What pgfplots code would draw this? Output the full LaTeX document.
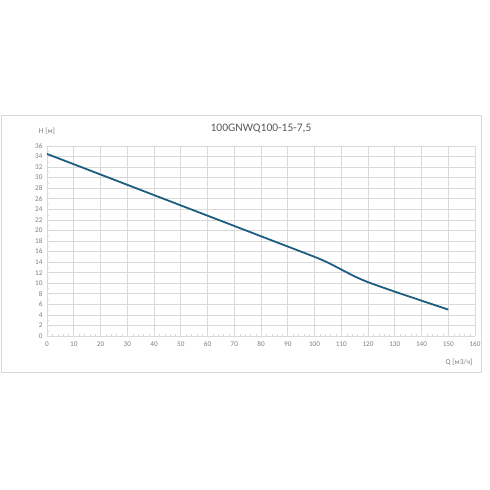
\documentclass[border=0pt]{standalone}
\usepackage{pgfplots}
\pgfplotsset{compat=1.18}
\usepackage{fontspec}
\setmainfont{Carlito}
\definecolor{curve}{HTML}{1D5E80}
\definecolor{gridc}{HTML}{D9D9D9}
\definecolor{labc}{HTML}{7F7F7F}
\definecolor{titc}{HTML}{595959}
\begin{document}
\begin{tikzpicture}
\useasboundingbox (0pt,0pt) rectangle (490pt,490pt);
\fill[white] (0pt,0pt) rectangle (490pt,490pt);
\draw[gridc, line width=0.8pt] (1pt,118pt) rectangle (481pt,375pt);
\node[titc, font=\fontsize{11.5}{13}\selectfont] at (261pt,361pt) {100GNWQ100-15-7,5};
\node[labc, font=\fontsize{7.5}{8}\selectfont] at (47pt,359pt) {H [м]};
\node[labc, font=\fontsize{7.5}{8}\selectfont] at (459pt,128pt) {Q [м3/ч]};
\begin{axis}[at={(47pt,154pt)}, anchor=origin,
  scale only axis, width=428pt, height=190pt,
  xmin=0, xmax=160, ymin=0, ymax=36,
  xtick={0,10,...,160}, ytick={0,2,...,36},
  minor x tick num=4, minor y tick num=1,
  grid=major, major grid style={gridc, line width=0.6pt},
  axis line style={gridc, line width=0.6pt},
  axis x line*=bottom, axis y line*=left,
  x axis line style={-}, y axis line style={-},
  tick style={gridc}, major tick length=0pt, minor tick length=2pt,
  xtick pos=bottom, ytick pos=left,
  ticklabel style={labc, font=\fontsize{7.2}{8}\selectfont},
  /pgf/number format/assume math mode=true,
  xticklabel style={yshift=-2pt}, yticklabel style={xshift=-1pt}]
\addplot[curve, line width=1.8pt, smooth, tension=0.4] coordinates {
(0,34.5) (20,30.6) (40,26.7) (60,22.8) (80,18.9) (100,15.0) (105,13.9) (110,12.6) (115,11.3) (120,10.2) (130,8.4) (140,6.7) (150,5.0)};
\end{axis}
\end{tikzpicture}
\end{document}
